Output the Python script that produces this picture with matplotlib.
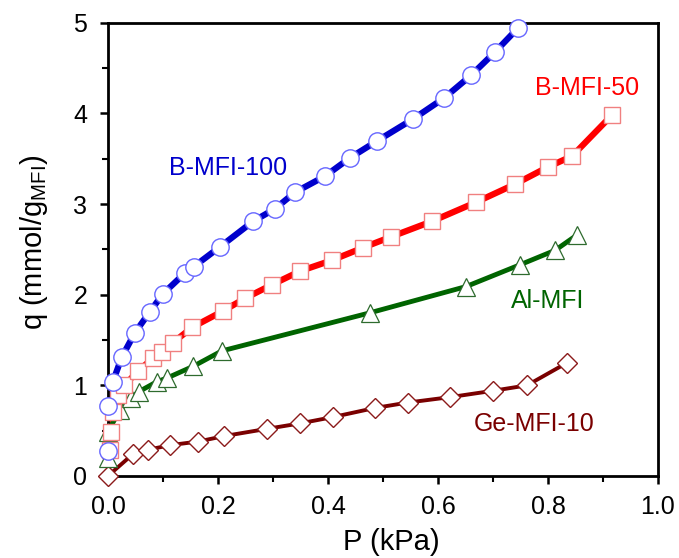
import matplotlib.pyplot as plt
from matplotlib.ticker import MultipleLocator

plt.rcParams['font.family'] = ['Liberation Sans', 'DejaVu Sans']

# B-MFI-100
p_b100 = [0.0, 0.0, 0.009, 0.025, 0.049, 0.076, 0.100, 0.140, 0.156, 0.204,
          0.264, 0.304, 0.340, 0.395, 0.440, 0.490, 0.555, 0.611, 0.660, 0.704, 0.745]
q_b100 = [0.28, 0.77, 1.04, 1.31, 1.58, 1.81, 2.01, 2.24, 2.31, 2.53,
          2.81, 2.95, 3.13, 3.31, 3.51, 3.70, 3.94, 4.17, 4.42, 4.68, 4.94]

# B-MFI-50
p_b50 = [0.004, 0.005, 0.009, 0.018, 0.030, 0.055, 0.082, 0.098, 0.118, 0.153,
         0.209, 0.249, 0.298, 0.349, 0.407, 0.464, 0.515, 0.589, 0.669, 0.740,
         0.800, 0.844, 0.916]
q_b50 = [0.29, 0.49, 0.71, 0.89, 1.00, 1.16, 1.30, 1.37, 1.47, 1.64,
         1.82, 1.96, 2.11, 2.26, 2.38, 2.52, 2.64, 2.81, 3.02, 3.22,
         3.41, 3.53, 3.98]

# Al-MFI
p_al = [0.0, 0.0, 0.022, 0.042, 0.056, 0.089, 0.107, 0.155, 0.207, 0.476,
        0.651, 0.749, 0.813, 0.853]
q_al = [0.20, 0.49, 0.73, 0.86, 0.93, 1.04, 1.08, 1.21, 1.38, 1.80,
        2.09, 2.33, 2.49, 2.66]

# Ge-MFI-10
p_ge = [0.0, 0.045, 0.073, 0.113, 0.164, 0.211, 0.289, 0.349, 0.409, 0.485,
        0.545, 0.622, 0.700, 0.762, 0.835]
q_ge = [0.0, 0.24, 0.29, 0.34, 0.38, 0.44, 0.52, 0.58, 0.65, 0.75,
        0.81, 0.87, 0.94, 1.00, 1.25]

fig = plt.figure(figsize=(6.79, 5.58), dpi=100)
ax = fig.add_axes([0.159, 0.147, 0.81, 0.812])

# Lines
ax.plot(p_b100, q_b100, color='#0000cc', lw=4.5, zorder=2)
ax.plot(p_b50, q_b50, color='#ff0000', lw=4.5, zorder=2)
ax.plot(p_al, q_al, color='#006400', lw=3.5, zorder=2)
ax.plot(p_ge, q_ge, color='#7a0000', lw=2.8, zorder=2)

# Markers
ax.plot(p_ge, q_ge, ls='none', marker='D', ms=10, mfc='white', mec='#8b1a1a',
        mew=1.0, zorder=3, clip_on=False)
ax.plot(p_al, q_al, ls='none', marker='^', ms=13, mfc='white', mec='#2e6b2e',
        mew=0.9, zorder=3, clip_on=False)
ax.plot(p_b50, q_b50, ls='none', marker='s', ms=12, mfc='white', mec='#f08080',
        mew=1.0, zorder=3, clip_on=False)
ax.plot(p_b100, q_b100, ls='none', marker='o', ms=12.5, mfc='white', mec='#6666ff',
        mew=1.0, zorder=3, clip_on=False)

# Curve labels
ax.text(0.218, 3.40, 'B-MFI-100', color='#0000cc', fontsize=18, ha='center', va='center')
ax.text(0.871, 4.28, 'B-MFI-50', color='#ff0000', fontsize=18, ha='center', va='center')
ax.text(0.80, 1.93, 'Al-MFI', color='#006400', fontsize=18, ha='center', va='center')
ax.text(0.775, 0.57, 'Ge-MFI-10', color='#7a0000', fontsize=18, ha='center', va='center')

ax.set_xlim(0, 1.0)
ax.set_ylim(0, 5)
ax.xaxis.set_major_locator(MultipleLocator(0.2))
ax.xaxis.set_minor_locator(MultipleLocator(0.1))
ax.yaxis.set_major_locator(MultipleLocator(1))
ax.yaxis.set_minor_locator(MultipleLocator(0.5))
ax.xaxis.set_major_formatter(plt.FormatStrFormatter('%.1f'))

for s in ax.spines.values():
    s.set_linewidth(2)
ax.tick_params(which='major', direction='out', length=6, width=1.8, labelsize=18)
ax.tick_params(axis='x', which='major', pad=8)
ax.tick_params(axis='y', which='major', pad=9)
ax.tick_params(which='minor', direction='out', length=4, width=1.5)

ax.set_xlabel('P (kPa)', fontsize=21)
ax.set_ylabel('q (mmol/g$_{\\mathregular{MFI}}$)', fontsize=21)
ax.xaxis.set_label_coords(0.516, -0.115)
ax.yaxis.set_label_coords(-0.105, 0.517)

fig.savefig('out.png', dpi=100)
